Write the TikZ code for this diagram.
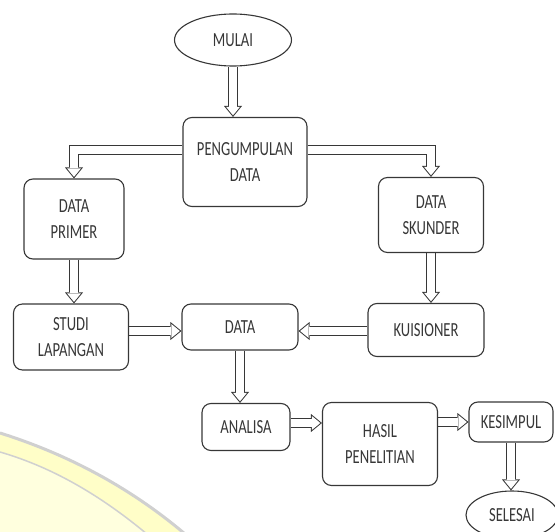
\documentclass[tikz,border=0pt]{standalone}
\usepackage{fontspec}
\setmainfont{Carlito}[FakeStretch=0.73]
\usetikzlibrary{arrows.meta}
\usetikzlibrary{shapes.geometric}

\definecolor{inkgray}{RGB}{55,55,55}
\definecolor{paleyellow}{RGB}{255,255,222}
\definecolor{bandyellow}{RGB}{255,254,200}
\definecolor{rimgray}{RGB}{208,208,208}

\pgfdeclarelayer{background}
\pgfsetlayers{background,main}

\begin{document}
\begin{tikzpicture}[x=1pt, y=-1pt,
    every node/.style={font=\fontsize{20}{26.5}\selectfont, text=inkgray},
    box/.style={draw=inkgray, line width=1.1pt, rounded corners=9pt, align=center, inner sep=0pt},
    oval/.style={draw=inkgray, line width=1.1pt, ellipse, inner sep=0pt},
    flow/.style={draw=inkgray, line width=10pt, -{Triangle[length=11pt, width=18pt, line width=0pt]},
        postaction={draw=white, line width=8pt, shorten >=1.6pt, -{Triangle[length=8.4pt, width=13.8pt, line width=0pt]}}}]

        \clip (0,0) rectangle (555,532);

        % Start and end
        \node[oval, minimum width=117pt, minimum height=52pt] (mulai) at (233,40) {MULAI};
        \node[oval, minimum width=92pt, minimum height=48pt] (selesai) at (512,515) {SELESAI};

        % Boxes
        \node[box, minimum width=124pt, minimum height=89pt] (kumpul) at (245,162) {PENGUMPULAN\\DATA};
        \node[box, minimum width=100pt, minimum height=80pt] (primer) at (74,219) {DATA\\PRIMER};
        \node[box, minimum width=105pt, minimum height=75pt] (skunder) at (431,215) {DATA\\SKUNDER};
        \node[box, minimum width=115pt, minimum height=66pt] (studi) at (71,337) {STUDI\\LAPANGAN};
        \node[box, minimum width=116pt, minimum height=46pt] (data) at (240,327) {DATA};
        \node[box, minimum width=116pt, minimum height=53pt] (kuis) at (426,330) {KUISIONER};
        \node[box, minimum width=88pt, minimum height=47pt] (analisa) at (246,427) {ANALISA};
        \node[box, minimum width=115pt, minimum height=83pt] (hasil) at (380,444) {HASIL\\PENELITIAN};
        \node[box, minimum width=84pt, minimum height=40pt] (kesimpul) at (511,422) {KESIMPUL};

        \begin{pgfonlayer}{background}
            % Watermark arc
            \fill[bandyellow] (0,433) .. controls (70,455) and (135,490) .. (192,540) -- (0,540) -- cycle;
            \fill[paleyellow] (0,452) .. controls (55,468) and (105,498) .. (154,540) -- (0,540) -- cycle;
            \draw[rimgray, line width=3pt] (0,433) .. controls (70,455) and (135,490) .. (192,540);
            \draw[rimgray, line width=1.5pt] (0,452) .. controls (55,468) and (105,498) .. (154,540);

            % Arrows
            \draw[flow] (mulai.south) -- (mulai.south |- kumpul.north);
            \draw[flow] ([yshift=12pt]kumpul.west) -| (primer.north);
            \draw[flow] ([yshift=12pt]kumpul.east) -| (skunder.north);
            \draw[flow] (primer.south) -- (primer.south |- studi.north);
            \draw[flow] (skunder.south) -- (skunder.south |- kuis.north);
            \draw[flow] ([yshift=-4pt]data.west -| studi.east) -- ([yshift=-4pt]data.west);
            \draw[flow] ([yshift=-4pt]data.east -| kuis.west) -- ([yshift=-4pt]data.east);
            \draw[flow] (data.south) -- (data.south |- analisa.north);
            \draw[flow] ([yshift=4pt]analisa.east) -- ([yshift=4pt]analisa.east -| hasil.west);
            \draw[flow] (kesimpul.west -| hasil.east) -- (kesimpul.west);
            \draw[flow] (kesimpul.south) -- (kesimpul.south |- selesai.north);
        \end{pgfonlayer}

    \end{tikzpicture}
\end{document}
